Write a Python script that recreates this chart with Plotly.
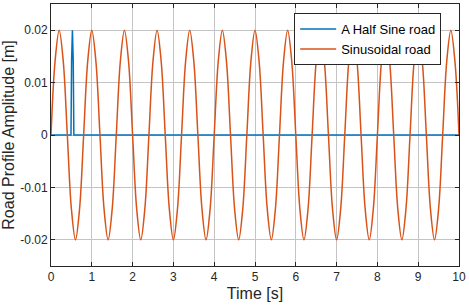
import plotly.graph_objects as go

# Sinusoidal road (amplitude 0.02 m, period 0.8 s)
sine_time = [
    0.0, 0.1, 0.2, 0.3, 0.4, 0.5, 0.6, 0.7,
    0.8, 0.9, 1.0, 1.1, 1.2, 1.3, 1.4, 1.5,
    1.6, 1.7, 1.8, 1.9, 2.0, 2.1, 2.2, 2.3,
    2.4, 2.5, 2.6, 2.7, 2.8, 2.9, 3.0, 3.1,
    3.2, 3.3, 3.4, 3.5, 3.6, 3.7, 3.8, 3.9,
    4.0, 4.1, 4.2, 4.3, 4.4, 4.5, 4.6, 4.7,
    4.8, 4.9, 5.0, 5.1, 5.2, 5.3, 5.4, 5.5,
    5.6, 5.7, 5.8, 5.9, 6.0, 6.1, 6.2, 6.3,
    6.4, 6.5, 6.6, 6.7, 6.8, 6.9, 7.0, 7.1,
    7.2, 7.3, 7.4, 7.5, 7.6, 7.7, 7.8, 7.9,
    8.0, 8.1, 8.2, 8.3, 8.4, 8.5, 8.6, 8.7,
    8.8, 8.9, 9.0, 9.1, 9.2, 9.3, 9.4, 9.5,
    9.6, 9.7, 9.8, 9.9, 10.0,
]
sine_road = [
    0, 0.0141, 0.02, 0.0141, 0, -0.0141, -0.02, -0.0141,
    0, 0.0141, 0.02, 0.0141, 0, -0.0141, -0.02, -0.0141,
    0, 0.0141, 0.02, 0.0141, 0, -0.0141, -0.02, -0.0141,
    0, 0.0141, 0.02, 0.0141, 0, -0.0141, -0.02, -0.0141,
    0, 0.0141, 0.02, 0.0141, 0, -0.0141, -0.02, -0.0141,
    0, 0.0141, 0.02, 0.0141, 0, -0.0141, -0.02, -0.0141,
    0, 0.0141, 0.02, 0.0141, 0, -0.0141, -0.02, -0.0141,
    0, 0.0141, 0.02, 0.0141, 0, -0.0141, -0.02, -0.0141,
    0, 0.0141, 0.02, 0.0141, 0, -0.0141, -0.02, -0.0141,
    0, 0.0141, 0.02, 0.0141, 0, -0.0141, -0.02, -0.0141,
    0, 0.0141, 0.02, 0.0141, 0, -0.0141, -0.02, -0.0141,
    0, 0.0141, 0.02, 0.0141, 0, -0.0141, -0.02, -0.0141,
    0, 0.0141, 0.02, 0.0141, 0,
]

# Half sine bump road
bump_time = [0.0, 0.49, 0.505, 0.525, 0.545, 0.56, 10.0]
bump_road = [0, 0, 0.0141, 0.02, 0.0141, 0, 0]

x_ticks = [0, 1, 2, 3, 4, 5, 6, 7, 8, 9, 10]
y_ticks = [-0.02, -0.01, 0, 0.01, 0.02]
y_tick_labels = ["-0.02", "-0.01", "0", "0.01", "0.02"]

FONT = "Liberation Sans, Arial, sans-serif"
TXT = "#262626"

fig = go.Figure()
fig.add_trace(go.Scatter(
    x=bump_time, y=bump_road, mode="lines", name="A Half Sine road",
    line=dict(color="#0072BD", width=1.5),
))
fig.add_trace(go.Scatter(
    x=sine_time, y=sine_road, mode="lines", name="Sinusoidal road",
    line=dict(color="#D95319", width=1.5, shape="spline"),
))

axis_common = dict(
    showgrid=True, gridcolor="#c4c4c4", gridwidth=1,
    showline=True, linecolor=TXT, linewidth=1, mirror="ticks",
    ticks="inside", ticklen=4, tickcolor=TXT,
    tickfont=dict(family=FONT, size=12, color=TXT),
    zeroline=False, automargin=False,
)

fig.update_xaxes(
    range=[0, 10], tickvals=x_ticks,
    title=dict(text="Time [s]", font=dict(family=FONT, size=16, color=TXT), standoff=4),
    **axis_common,
)
fig.update_yaxes(
    range=[-0.025, 0.025], tickvals=y_ticks, ticktext=y_tick_labels,
    title=dict(text="Road Profile Amplitude [m]", font=dict(family=FONT, size=16, color=TXT), standoff=2),
    **axis_common,
)

fig.update_layout(
    width=469, height=307,
    margin=dict(l=51, r=10, t=4, b=41, autoexpand=False),
    paper_bgcolor="white", plot_bgcolor="white",
    font=dict(family=FONT, color=TXT),
    showlegend=True,
    legend=dict(
        x=0.596, y=0.965, xanchor="left", yanchor="top",
        bgcolor="white", bordercolor=TXT, borderwidth=1,
        font=dict(family=FONT, size=13, color="black"),
        tracegroupgap=0, itemwidth=36,
    ),
)

fig.write_html(
    "out.html",
    config={"displayModeBar": False},
    post_script="document.body.style.margin='0px';document.body.style.overflow='hidden';",
)
